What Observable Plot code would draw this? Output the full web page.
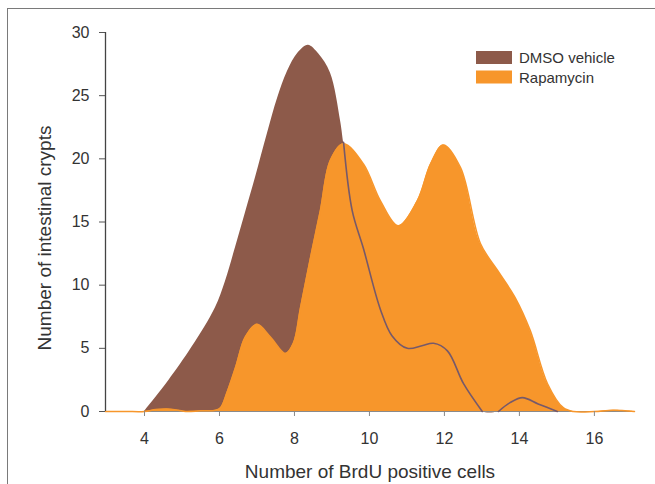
<!DOCTYPE html>
<html><head><meta charset="utf-8">
<script src="https://cdn.jsdelivr.net/npm/d3@7"></script>
<script src="https://cdn.jsdelivr.net/npm/@observablehq/plot@0.6"></script>
<style>
html,body{margin:0;padding:0;background:#fff;}
#wrap{position:relative;width:655px;height:484px;overflow:hidden;background:#fff;}
#frame{position:absolute;left:7px;top:8px;width:700px;height:600px;border-top:1.6px solid #7a7a7a;border-left:1.6px solid #7a7a7a;}
#chart{position:absolute;left:0;top:0;}
</style></head><body>
<div id="wrap"><div id="frame"></div><div id="chart"></div></div>
<script>
// DMSO vehicle
const dmsoX = [4.0, 4.3, 4.65, 5.27, 5.89, 6.16, 6.43, 6.69, 6.96, 7.28, 7.55, 7.81, 8.1, 8.37, 8.65, 8.96, 9.23, 9.31, 9.54, 9.84, 10.29, 10.6, 11.01, 11.4, 11.71, 12.08, 12.51, 13.01, 13.44, 13.75, 14.08, 14.5, 15.01];
const dmsoY = [0, 1.1, 2.45, 5.1, 8.2, 10.3, 13.0, 15.7, 18.5, 22.0, 24.8, 26.9, 28.4, 29.0, 28.3, 26.8, 23.0, 21.3, 15.9, 12.9, 8.1, 6.0, 5.0, 5.2, 5.4, 4.8, 2.2, 0, 0, 0.7, 1.1, 0.6, 0];
// Rapamycin
const rapaX = [2.96, 3.5, 4.0, 4.3, 4.6, 4.9, 5.1, 5.5, 5.9, 6.03, 6.2, 6.43, 6.69, 7.0, 7.36, 7.76, 7.97, 8.16, 8.45, 8.69, 8.96, 9.31, 9.84, 10.29, 10.77, 11.28, 11.63, 11.97, 12.43, 12.96, 13.41, 13.89, 14.29, 14.75, 15.17, 15.44, 16.0, 16.5, 17.07];
const rapaY = [0, 0, 0, 0.15, 0.2, 0.1, 0, 0.05, 0.1, 0.3, 1.5, 3.5, 5.9, 6.9, 5.9, 4.6, 5.4, 8.2, 12.5, 15.9, 19.9, 21.2, 19.6, 16.7, 14.7, 16.7, 19.6, 21.1, 19.3, 13.3, 11.2, 9.0, 6.4, 2.2, 0.3, 0, 0, 0.1, 0];
const seriesNames = ["DMSO vehicle", "Rapamycin"];
const xTicks = [4, 6, 8, 10, 12, 14, 16];
const yTicks = [0, 5, 10, 15, 20, 25, 30];
const xLabel = "Number of BrdU positive cells";
const yLabel = "Number of intestinal crypts";

const BROWN = "#8d5a4a", ORANGE = "#f7962b", LINE = "#76596a";
const CURVE = "catmull-rom";
const dmso = dmsoX.map((x, i) => ({x, y: dmsoY[i]}));
const rapa = rapaX.map((x, i) => ({x, y: rapaY[i]}));
// outline of DMSO curve where it lies over the Rapamycin area, broken where it rests on the baseline
const dmsoLine = [];
dmso.forEach((d, i) => {
  if (d.x < 9.3) return;
  dmsoLine.push(d);
  if (d.y === 0 && dmso[i + 1] && dmso[i + 1].y === 0) dmsoLine.push({x: (d.x + dmso[i + 1].x) / 2, y: NaN});
});

const chart = Plot.plot({
  width: 655, height: 484,
  marginLeft: 105, marginRight: 21, marginTop: 32, marginBottom: 73,
  x: {domain: [2.96, 17.07]},
  y: {domain: [0, 30]},
  style: {fontFamily: "'Liberation Sans', Arial, sans-serif", background: "transparent"},
  marks: [
    Plot.areaY(dmso, {x: "x", y: "y", fill: BROWN, curve: CURVE}),
    Plot.areaY(rapa, {x: "x", y: "y", fill: ORANGE, curve: CURVE}),
    Plot.ruleY([0], {stroke: "#8a8a8a", strokeWidth: 1.2}),
    Plot.line(rapa, {x: "x", y: "y", stroke: ORANGE, strokeWidth: 1.5, curve: CURVE}),
    Plot.line(dmsoLine, {x: "x", y: "y", stroke: LINE, strokeWidth: 1.6, curve: CURVE}),
    Plot.axisX({ticks: xTicks, tickSize: 5, tickPadding: 16, fontSize: 16, stroke: "#888", fill: "#333", label: null}),
    Plot.axisY({ticks: yTicks, tickSize: 6, tickPadding: 10, fontSize: 16, stroke: "#555", fill: "#333", label: null}),
    Plot.ruleX([2.96], {y1: 0, y2: 30, stroke: "#444", strokeWidth: 1.3})
  ]
});
document.getElementById("chart").appendChild(chart);

const svg = d3.select(chart);
svg.append("text").attr("x", 370).attr("y", 478).attr("text-anchor", "middle")
  .attr("font-size", 19).attr("fill", "#333").text(xLabel);
svg.append("text").attr("transform", "translate(51,238) rotate(-90)").attr("text-anchor", "middle")
  .attr("font-size", 19).attr("fill", "#333").text(yLabel);
const leg = svg.append("g");
[BROWN, ORANGE].forEach((c, i) => {
  leg.append("rect").attr("x", 476).attr("y", 51 + i * 19.5).attr("width", 36).attr("height", 13).attr("fill", c);
  leg.append("text").attr("x", 519).attr("y", 63 + i * 19.5).attr("text-anchor", "start")
    .attr("font-size", 15).attr("fill", "#333").text(seriesNames[i]);
});
</script>
</body></html>
